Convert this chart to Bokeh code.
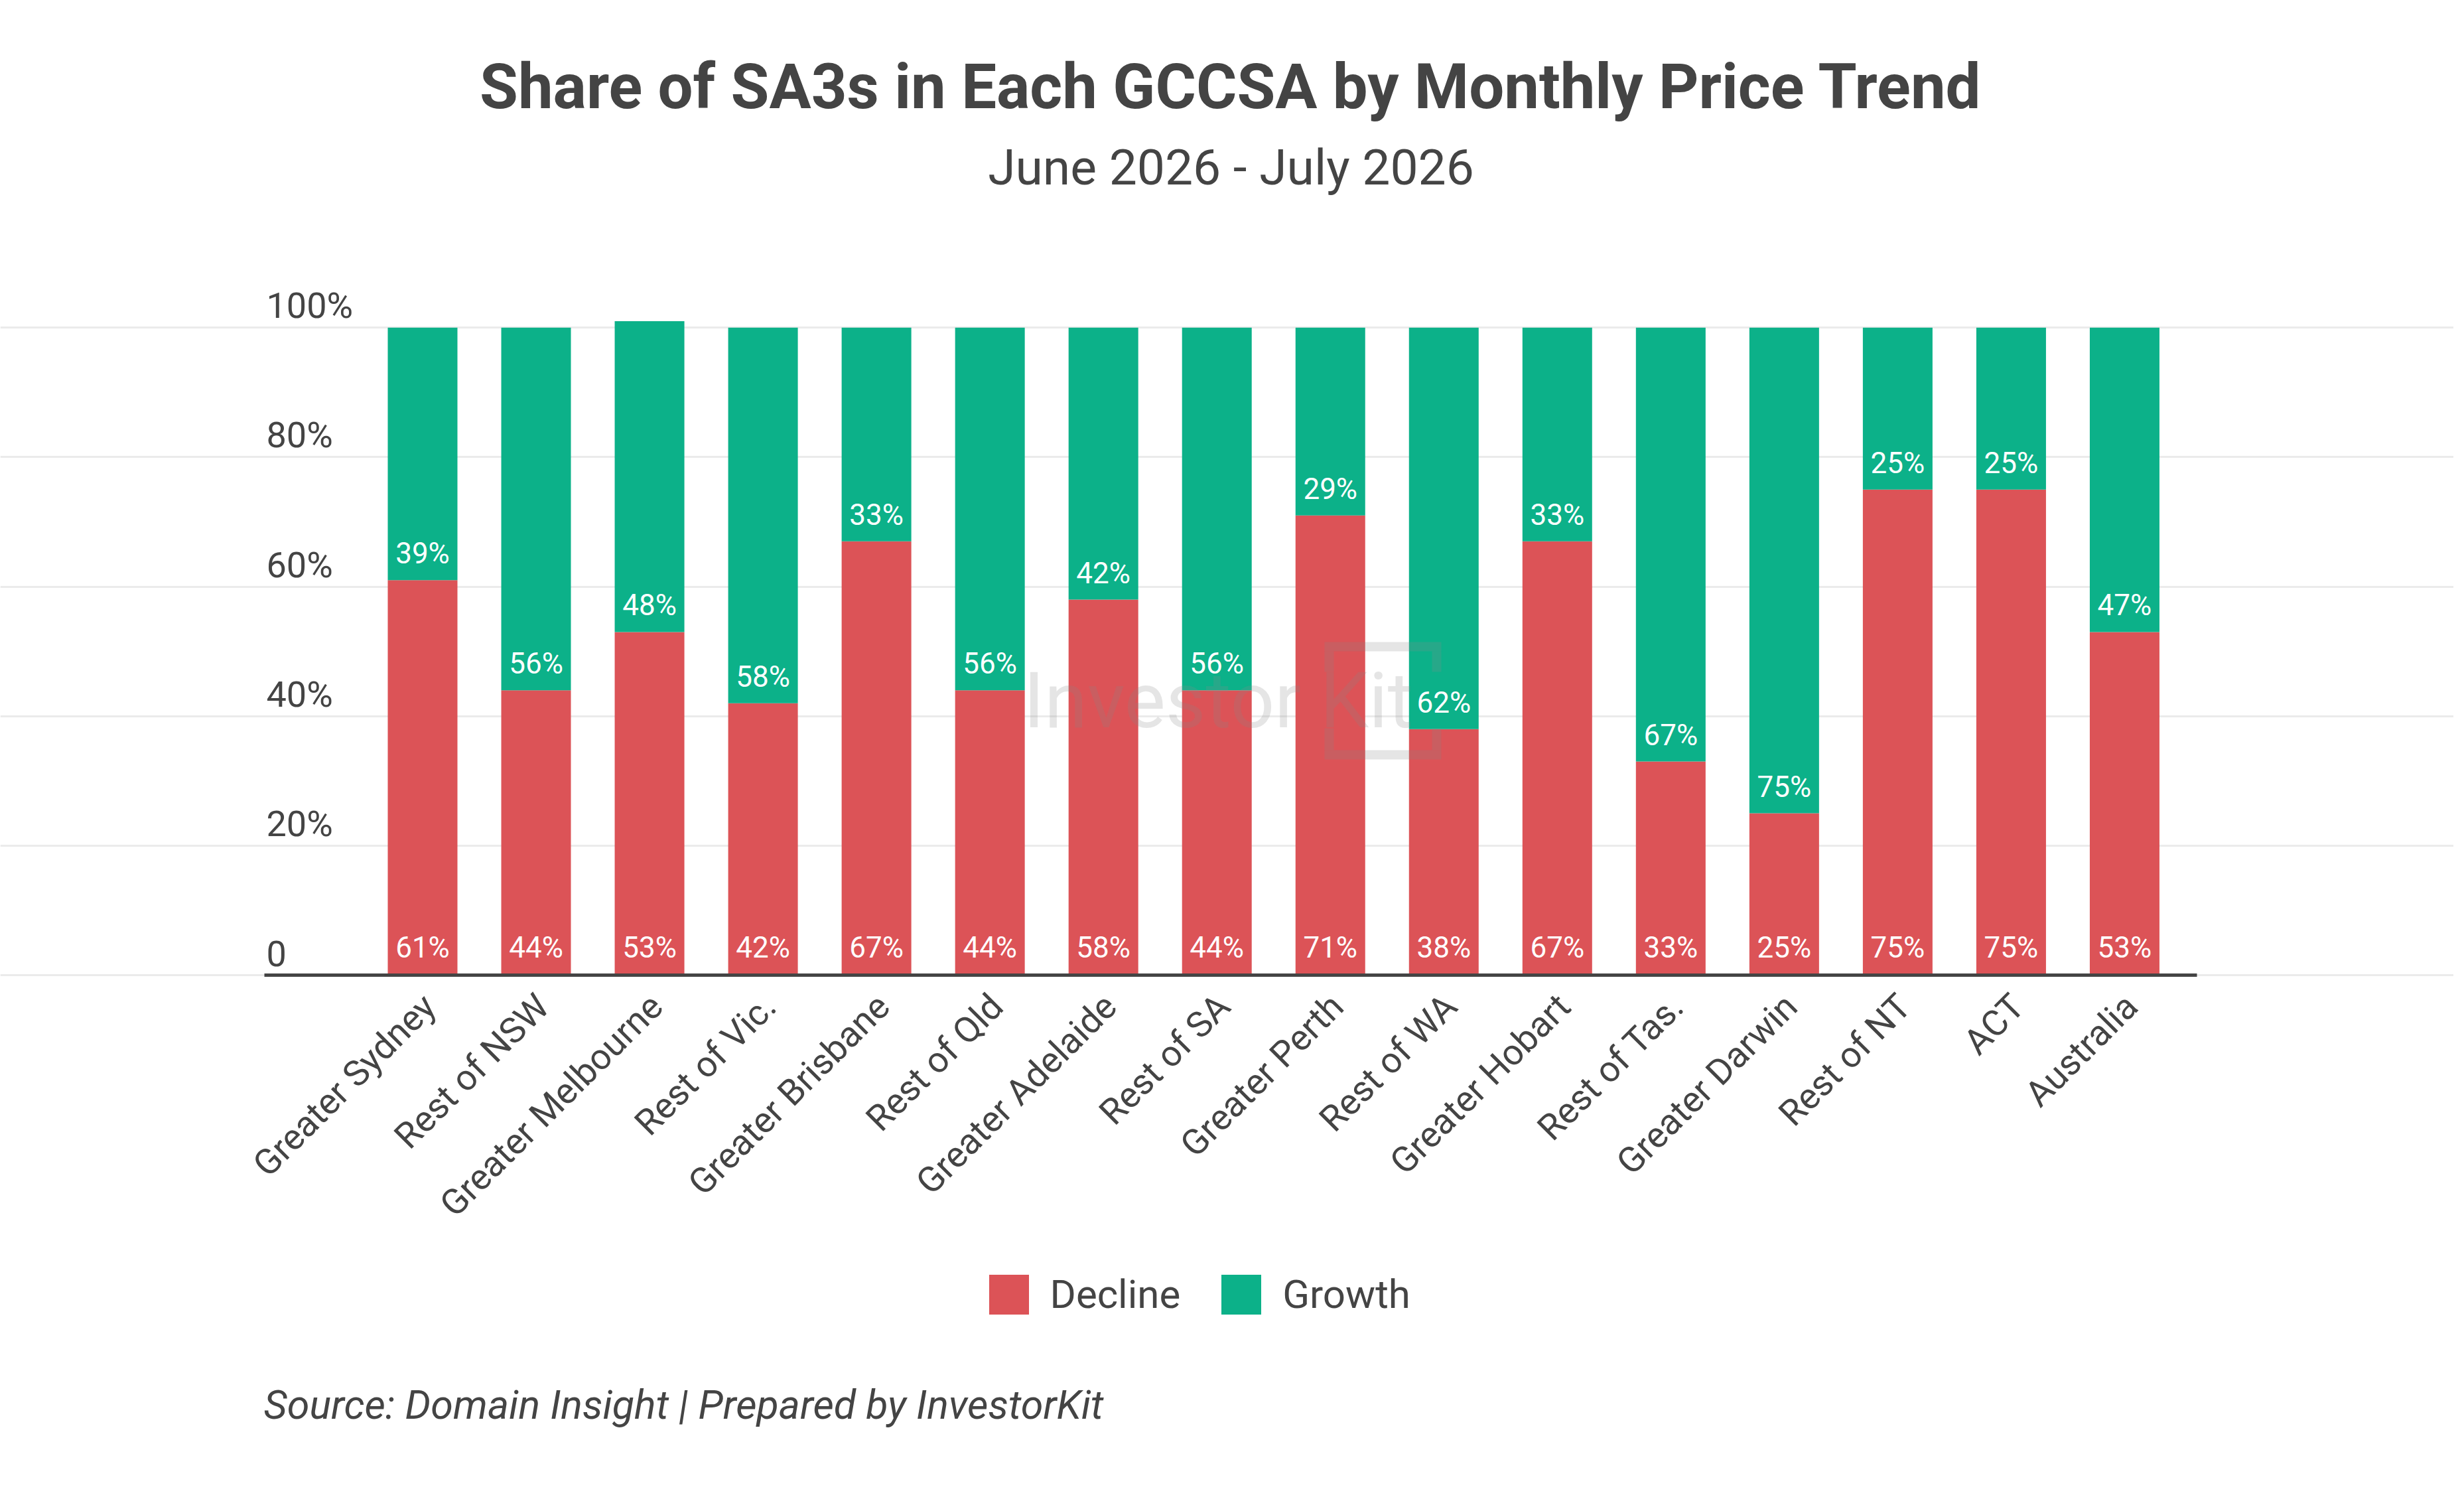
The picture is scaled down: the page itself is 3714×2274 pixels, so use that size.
import math

from bokeh.core.properties import value
from bokeh.embed import file_html
from bokeh.models import (BoxAnnotation, ColumnDataSource, FixedTicker, Grid, Label,
                          Legend, LegendItem, Range1d)
from bokeh.plotting import figure
from bokeh.resources import INLINE

# data
categories = ["Greater Sydney", "Rest of NSW", "Greater Melbourne", "Rest of Vic.",
              "Greater Brisbane", "Rest of Qld", "Greater Adelaide", "Rest of SA",
              "Greater Perth", "Rest of WA", "Greater Hobart", "Rest of Tas.",
              "Greater Darwin", "Rest of NT", "ACT", "Australia"]
decline = [61, 44, 53, 42, 67, 44, 58, 44, 71, 38, 67, 33, 25, 75, 75, 53]
growth = [39, 56, 48, 58, 33, 56, 42, 56, 29, 62, 33, 67, 75, 25, 25, 47]

y_ticks = [0, 20, 40, 60, 80, 100]
y_tick_labels = ["0", "20%", "40%", "60%", "80%", "100%"]

RED = "#DC5357"
GREEN = "#0CB189"
INK = "#444444"
FONT = "Roboto"

W, H = 3698, 2258
OFF = 1                     # where the figure lands on the page
BAR0, STEP = 637.5, 171.03  # page px of first bar centre, px per category
ZERO, PCT = 1470.0, 9.757   # page px of the 0 line, px per percent


def dx(px):
    return (px - BAR0) / STEP


def dy(py):
    return (ZERO - py) / PCT


def sx(px):   # page px -> frame screen x
    return px - OFF


def sy(py):   # page px -> frame screen y (measured upward)
    return OFF + H - py


xs = list(range(len(categories)))
src = ColumnDataSource(dict(
    x=xs,
    name=categories,
    zero=[0] * len(xs),
    decline=decline,
    total=[d + g for d, g in zip(decline, growth)],
    dlab=[f"{v}%" for v in decline],
    glab=[f"{v}%" for v in growth],
))

p = figure(
    width=W, height=H,
    x_range=Range1d(dx(OFF), dx(OFF + W)), y_range=Range1d(dy(OFF + H), dy(OFF)),
    x_axis_location=None, y_axis_location=None,
    output_backend="svg", toolbar_location=None, min_border=0,
)
p.title.visible = False
p.outline_line_color = None
p.background_fill_color = "white"
p.border_fill_color = "white"

# drop the default grids, keep horizontal lines only across the plotting area
for g in p.grid:
    g.visible = False
p.add_layout(Grid(dimension=1, ticker=FixedTicker(ticks=y_ticks),
                  bounds=(dx(399), dx(3345)),
                  grid_line_color="#ebebeb", grid_line_width=3))

red = p.vbar(x="x", bottom="zero", top="decline", width=0.614, source=src,
             fill_color=RED, line_color=None)
green = p.vbar(x="x", bottom="decline", top="total", width=0.614, source=src,
               fill_color=GREEN, line_color=None)

# baseline axis line
p.segment(x0=[dx(399)], y0=[0], x1=[dx(3312)], y1=[0], line_color=INK, line_width=5)

# value labels inside the bars
p.text(x="x", y="zero", text="dlab", source=src, text_align="center",
       text_baseline="alphabetic", y_offset=-42, text_color="white",
       text_font=value(FONT), text_font_size="44px")
p.text(x="x", y="decline", text="glab", source=src, text_align="center",
       text_baseline="alphabetic", y_offset=-40, text_color="white",
       text_font=value(FONT), text_font_size="44px")

# y tick labels, sitting on top of the grid lines
ysrc = ColumnDataSource(dict(y=y_ticks, t=y_tick_labels, x=[dx(402)] * len(y_ticks)))
p.text(x="x", y="y", text="t", source=ysrc, text_align="left",
       text_baseline="alphabetic", y_offset=-33, text_color=INK,
       text_font=value(FONT), text_font_size="54px")

# rotated category labels
p.text(x="x", y="zero", text="name", source=src, angle=math.pi / 4,
       text_align="right", text_baseline="middle", x_offset=10, y_offset=38,
       text_color=INK, text_font=value(FONT), text_font_size="54px")

# watermark
p.add_layout(Label(x=sx(1543), y=sy(1098) + 42, x_units="screen", y_units="screen",
                   text="Investor Kit", text_baseline="alphabetic",
                   text_font=FONT, text_font_size="117px",
                   text_color="#8a8a8a", text_alpha=0.22))
for l, r, t, b in [(1997, 2173, 968, 982), (1997, 2011, 982, 1013), (2159, 2173, 982, 1013),
                   (1997, 2173, 1131, 1145), (1997, 2011, 1098, 1131), (2159, 2173, 1098, 1131)]:
    p.add_layout(BoxAnnotation(left=sx(l), right=sx(r), top=sy(t), bottom=sy(b),
                               left_units="screen", right_units="screen",
                               top_units="screen", bottom_units="screen",
                               fill_color="#8a8a8a", fill_alpha=0.22, line_color=None))

# titles and source
p.add_layout(Label(x=sx(1856), y=sy(164) + 33, x_units="screen", y_units="screen",
                   text="Share of SA3s in Each GCCSA by Monthly Price Trend",
                   text_align="center", text_baseline="alphabetic",
                   text_font=FONT, text_font_style="bold", text_font_size="94px",
                   text_color=INK))
p.add_layout(Label(x=sx(1856), y=sy(279) + 27, x_units="screen", y_units="screen",
                   text="June 2026 - July 2026",
                   text_align="center", text_baseline="alphabetic",
                   text_font=FONT, text_font_size="75px", text_color=INK))
p.add_layout(Label(x=sx(398), y=sy(2139) + 22, x_units="screen", y_units="screen",
                   text="Source: Domain Insight | Prepared by InvestorKit",
                   text_align="left", text_baseline="alphabetic",
                   text_font=FONT, text_font_style="italic", text_font_size="61px",
                   text_color=INK))

# legend
legend = Legend(
    items=[LegendItem(label="Decline", renderers=[red]),
           LegendItem(label="Growth", renderers=[green])],
    location=(sx(1483.5), sy(1988.5)), orientation="horizontal",
    glyph_width=75, glyph_height=75, label_standoff=25, spacing=54,
    padding=0, margin=0, border_line_color=None, background_fill_alpha=0,
    label_text_font=FONT, label_text_font_size="60px", label_text_color=INK,
)
p.add_layout(legend)

open("out.html", "w").write(file_html(p, INLINE))
